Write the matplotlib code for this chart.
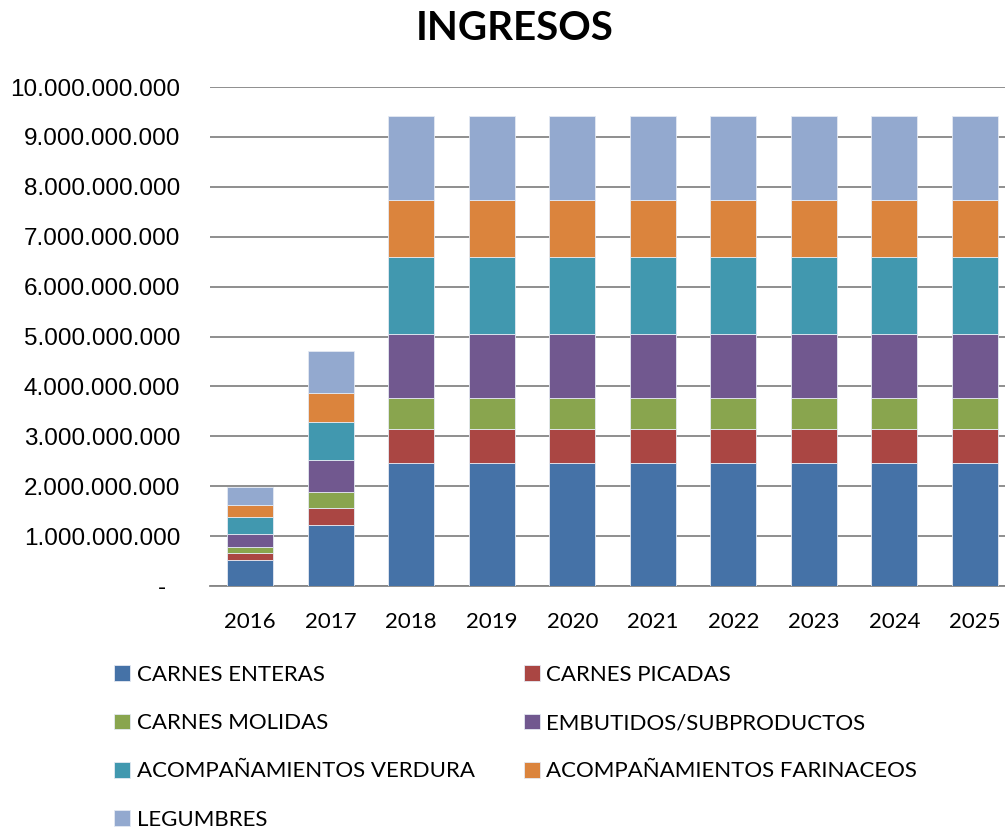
import numpy as np
import matplotlib
matplotlib.use("Agg")
import matplotlib.pyplot as plt
from matplotlib.ticker import FuncFormatter, MultipleLocator

years = ["2016", "2017", "2018", "2019", "2020", "2021", "2022", "2023", "2024", "2025"]
series_names = [
    "CARNES ENTERAS", "CARNES PICADAS", "CARNES MOLIDAS", "EMBUTIDOS/SUBPRODUCTOS",
    "ACOMPAÑAMIENTOS VERDURA", "ACOMPAÑAMIENTOS FARINACEOS", "LEGUMBRES",
]
# valores en miles de millones
carnes_enteras  = [0.52, 1.227, 2.467, 2.467, 2.467, 2.467, 2.467, 2.467, 2.467, 2.467]
carnes_picadas  = [0.133, 0.333, 0.673, 0.673, 0.673, 0.673, 0.673, 0.673, 0.673, 0.673]
carnes_molidas  = [0.133, 0.32, 0.633, 0.633, 0.633, 0.633, 0.633, 0.633, 0.633, 0.633]
embutidos       = [0.26, 0.647, 1.28, 1.28, 1.28, 1.28, 1.28, 1.28, 1.28, 1.28]
acomp_verdura   = [0.333, 0.76, 1.533, 1.533, 1.533, 1.533, 1.533, 1.533, 1.533, 1.533]
acomp_farin     = [0.247, 0.58, 1.147, 1.147, 1.147, 1.147, 1.147, 1.147, 1.147, 1.147]
legumbres       = [0.353, 0.847, 1.687, 1.687, 1.687, 1.687, 1.687, 1.687, 1.687, 1.687]

series = [carnes_enteras, carnes_picadas, carnes_molidas, embutidos,
          acomp_verdura, acomp_farin, legumbres]
colors = ["#4572A7", "#AA4643", "#89A54E", "#71588F", "#4198AF", "#DB843D", "#93A9CF"]

W, H = 1005, 833
fig = plt.figure(figsize=(W / 100, H / 100), dpi=100)
ax = fig.add_axes([210 / W, 1 - 586 / H, 805 / W, (586 - 87) / H])

x = np.arange(len(years))
bottom = np.zeros(len(years))
handles = []
for vals, name, c in zip(series, series_names, colors):
    v = np.array(vals) * 1e9
    b = ax.bar(x, v, 0.57, bottom=bottom, color=c, edgecolor="#e4e9f2",
               linewidth=0.6, label=name, zorder=3)
    handles.append(b)
    bottom += v

ax.set_xlim(-0.5, 9.5)
ax.set_ylim(0, 1e10)
ax.yaxis.set_major_locator(MultipleLocator(1e9))


def fmt(v, pos):
    if v == 0:
        return "-  "
    return f"{int(round(v)):,}".replace(",", ".")


ax.yaxis.set_major_formatter(FuncFormatter(fmt))
ax.set_xticks(x)
ax.set_xticklabels(years, fontfamily="Lato", fontsize=16)
for lab in ax.get_yticklabels():
    lab.set_fontfamily("Liberation Sans")
    lab.set_fontsize(17.5)
ax.tick_params(axis="y", length=0, pad=21.6)
ax.tick_params(axis="x", length=0, pad=19)
ax.grid(axis="y", color="#868686", linewidth=1.3, zorder=0)
for s in ["top", "right", "left"]:
    ax.spines[s].set_visible(False)
ax.spines["bottom"].set_color("#868686")
ax.spines["bottom"].set_linewidth(1.3)

fig.text(515 / W, 1 - 29 / H, "INGRESOS", ha="center", va="center",
         fontfamily="Lato", fontweight="bold", fontsize=29)

order = [0, 2, 4, 6, 1, 3, 5]
fig.legend([handles[i] for i in order], [series_names[i] for i in order],
           ncol=2, loc="upper left", bbox_to_anchor=(94 / W, 1 - 645 / H),
           frameon=False, prop={"family": "Lato", "size": 16},
           handlelength=0.72, handleheight=0.72, handletextpad=0.3,
           labelspacing=1.27, columnspacing=2.2)

fig.savefig("out.png", dpi=100)
